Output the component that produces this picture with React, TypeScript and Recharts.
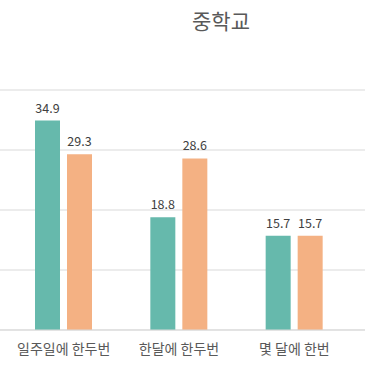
import React from 'react';
import { BarChart, Bar, XAxis, YAxis, CartesianGrid, LabelList } from 'recharts';

const categories = ['일주일에 한두번', '한달에 한두번', '몇 달에 한번'];
const seriesA = [34.9, 18.8, 15.7];
const seriesB = [29.3, 28.6, 15.7];
const yTicks = [0, 10, 20, 30, 40];
const title = '중학교';

const data = categories.map((c, i) => ({ name: c, a: seriesA[i], b: seriesB[i] }));

const FONT = '"Noto Sans CJK KR", "Noto Sans", sans-serif';

export default function App() {
  return (
    <div style={{ position: 'absolute', left: 0, top: 0, width: 365, height: 365, background: '#fff', fontFamily: FONT }}>
      <div style={{ position: 'absolute', left: 161, width: 120, top: 4, textAlign: 'center', fontSize: 21, lineHeight: '32px', color: '#595959' }}>
        {title}
      </div>
      <BarChart
        width={365}
        height={365}
        data={data}
        margin={{ top: 90, right: 0, bottom: 5, left: 0 }}
        barSize={25}
        barGap={7}
      >
        <CartesianGrid vertical={false} stroke="#d9d9d9" />
        <YAxis hide domain={[0, 40]} ticks={yTicks} />
        <XAxis
          dataKey="name"
          height={30}
          axisLine={{ stroke: '#d9d9d9' }}
          tickLine={false}
          padding={{ left: 6, right: 13 }}
          tick={{ fontSize: 14, fill: '#595959', fontFamily: FONT }}
          tickMargin={8}
          interval={0}
        />
        <Bar dataKey="a" fill="#66b9ac" isAnimationActive={false}>
          <LabelList dataKey="a" position="top" offset={8} style={{ fontSize: 12.5, fill: '#404040', fontFamily: FONT }} />
        </Bar>
        <Bar dataKey="b" fill="#f4b183" isAnimationActive={false}>
          <LabelList dataKey="b" position="top" offset={8} style={{ fontSize: 12.5, fill: '#404040', fontFamily: FONT }} />
        </Bar>
      </BarChart>
    </div>
  );
}
